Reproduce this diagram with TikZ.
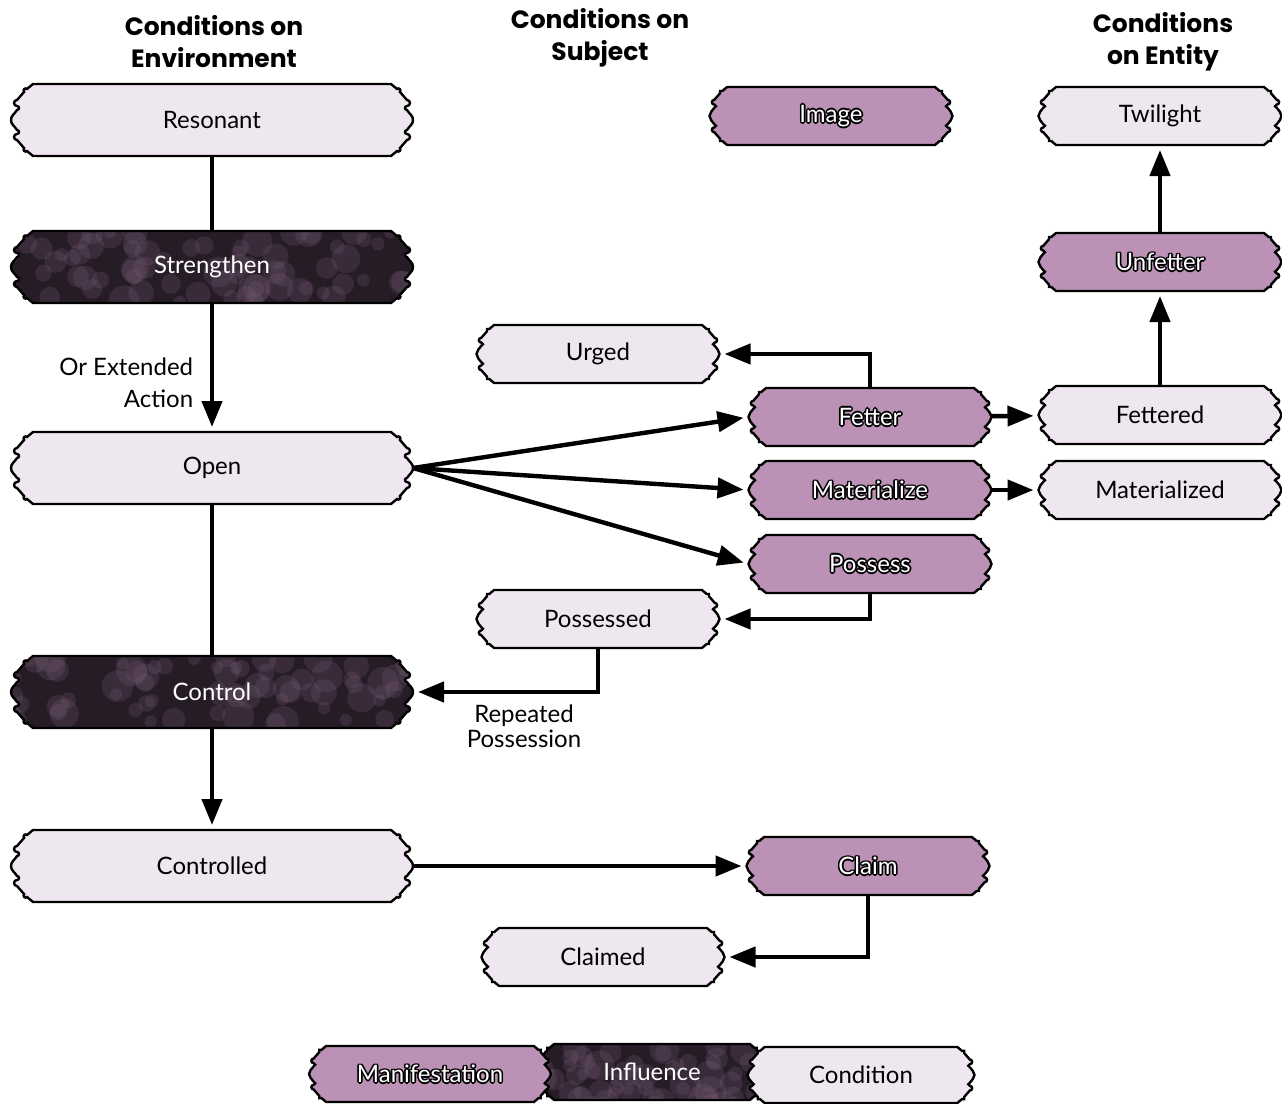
\documentclass[tikz,border=0pt]{standalone}
\usepackage{fontspec}
\setmainfont{Lato}
\newfontfamily\headfont{Poppins}
\usetikzlibrary{arrows.meta}
\usetikzlibrary{calc}
\usetikzlibrary{backgrounds}

\definecolor{condfill}{RGB}{239,231,240}
\definecolor{manifill}{RGB}{187,145,181}
\definecolor{inflfill}{RGB}{38,28,38}
\definecolor{inflspot}{RGB}{126,98,126}

% white lettering with a black rim
\newcommand\outlined[1]{{%
  \def\cp##1##2{\rlap{\kern##1\raisebox{##2}{\color{black}#1}}}%
  \cp{.8pt}{0pt}\cp{-.8pt}{0pt}\cp{0pt}{.8pt}\cp{0pt}{-.8pt}%
  \cp{.6pt}{.6pt}\cp{-.6pt}{.6pt}\cp{.6pt}{-.6pt}\cp{-.6pt}{-.6pt}%
  \color{white}#1}}

% outline of a ticket box around a node, #2 = size of the ornaments
\newcommand\ticketpath[2]{let \p1=(#1.north west), \p2=(#1.south east), \p3=(#1.center) in
  (\x1+11*#2pt,\y1) -- (\x2-11*#2pt,\y1)
  -- (\x2-8*#2pt,\y1-2.5*#2pt) arc[start angle=135,end angle=-45,radius=#2pt]
  -- (\x2-3*#2pt,\y1-8*#2pt)
  arc[start angle=90,end angle=-90,radius=1.5*#2pt]
  arc[start angle=90,end angle=270,radius=#2pt]
  to[out=-60,in=90] (\x2,\y3) to[out=-90,in=60] (\x2-3*#2pt,\y2+13*#2pt)
  arc[start angle=90,end angle=270,radius=#2pt]
  arc[start angle=90,end angle=-90,radius=1.5*#2pt]
  -- (\x2-6.59*#2pt,\y2+3.91*#2pt) arc[start angle=45,end angle=-135,radius=#2pt]
  -- (\x2-11*#2pt,\y2) -- (\x1+11*#2pt,\y2)
  -- (\x1+8*#2pt,\y2+2.5*#2pt) arc[start angle=-45,end angle=-225,radius=#2pt]
  -- (\x1+3*#2pt,\y2+8*#2pt)
  arc[start angle=-90,end angle=-270,radius=1.5*#2pt]
  arc[start angle=-90,end angle=90,radius=#2pt]
  to[out=120,in=-90] (\x1,\y3) to[out=90,in=-120] (\x1+3*#2pt,\y1-13*#2pt)
  arc[start angle=-90,end angle=90,radius=#2pt]
  arc[start angle=-90,end angle=-270,radius=1.5*#2pt]
  -- (\x1+6.59*#2pt,\y1-3.91*#2pt) arc[start angle=-135,end angle=-315,radius=#2pt]
  -- cycle}

% mottled dark ticket
\newcommand\inflticket[2]{%
  \fill[inflfill] \ticketpath{#1}{#2};
  \begin{scope}
    \clip \ticketpath{#1}{#2};
    \foreach \k in {1,...,70}
      \fill[inflspot,opacity=.22] ($(#1.north west)!{rnd}!(#1.north east)+(0pt,{-rnd*36pt})$) circle[radius={(3+5*rnd)*1pt}];
  \end{scope}
  \draw[rim] \ticketpath{#1}{#2};}

\begin{document}
\begin{tikzpicture}[x=0.5pt,y=-0.5pt]
	\tikzset{box/.style={inner sep=0pt, outer sep=0pt, font=\fontsize{12}{14}\selectfont}}
	\tikzset{wide/.style={box, minimum width=201pt, minimum height=36pt}}
	\tikzset{slim/.style={box, minimum width=121.5pt, minimum height=29pt}}
	\tikzset{key/.style={box, minimum height=28pt}}
	\tikzset{rim/.style={draw=black, line width=1.2pt}}
	\tikzset{cond/.style={rim, fill=condfill}}
	\tikzset{mani/.style={rim, fill=manifill}}
	\tikzset{heading/.style={align=center, font=\headfont\bfseries\fontsize{12.5}{16}\selectfont}}
	\tikzset{lbl/.style={align=right, font=\fontsize{12}{16}\selectfont}}
	\tikzset{link/.style={line width=2.2pt}}
	\tikzset{flow/.style={link, -{Triangle[length=13pt,width=10pt]}, shorten >=2.5pt}}
	\pgfmathsetseed{11}
	\useasboundingbox (0,0) rectangle (1282,1104);
	%headings
	\node[heading] (hen) at (214,42) {Conditions on\\Environment};
	\node[heading] (hsu) at (600,38) {Conditions on\\Subject};
	\node[heading] (hent) at (1163,42) {Conditions\\on Entity};
	%environment
	\node[wide] (res) at (212,120) {Resonant};
	\node[wide, text=white] (str) at (212,267) {Strengthen};
	\node[wide] (opn) at (212,468) {Open};
	\node[wide, text=white] (ctl) at (212,692) {Control};
	\node[wide] (cld) at (212,866) {Controlled};
	%subject
	\node[slim] (urg) at (598,354) {Urged};
	\node[slim] (pssd) at (598,619) {Possessed};
	\node[slim] (clmd) at (603,957) {Claimed};
	\node[slim] (img) at (831,116) {\outlined{Image}};
	\node[slim] (fet) at (870,417) {\outlined{Fetter}};
	\node[slim] (mat) at (870,490) {\outlined{Materialize}};
	\node[slim] (pos) at (870,564) {\outlined{Possess}};
	\node[slim] (clm) at (868,866) {\outlined{Claim}};
	%entity
	\node[slim] (twi) at (1160,116) {Twilight};
	\node[slim] (unf) at (1160,262) {\outlined{Unfetter}};
	\node[slim] (fetd) at (1160,415) {Fettered};
	\node[slim] (matd) at (1160,490) {Materialized};
	%legend
	\node[key, minimum width=115pt, text=white] (lgi) at (652,1072) {Influence};
	\node[key, minimum width=121pt] (lgm) at (430,1074) {\outlined{Manifestation}};
	\node[key, minimum width=113.5pt] (lgc) at (861,1075) {Condition};
	%boxes
	\begin{scope}[on background layer]
		\foreach \b in {res, opn, cld}
			\path[cond] \ticketpath{\b}{1};
		\foreach \b in {urg, pssd, clmd, twi, fetd, matd}
			\path[cond] \ticketpath{\b}{.8};
		\foreach \b in {img, fet, mat, pos, clm, unf}
			\path[mani] \ticketpath{\b}{.8};
		\inflticket{str}{1}
		\inflticket{ctl}{1}
		\inflticket{lgi}{.78}
		\path[mani] \ticketpath{lgm}{.78};
		\path[cond] \ticketpath{lgc}{.78};
	\end{scope}
	%edges
	\draw[link] (res) -- (str);
	\draw[flow] (str) -- node[lbl, left=5pt, pos=.62] (orx) {Or Extended\\Action} (opn);
	\draw[link] (opn) -- (ctl);
	\draw[flow] (ctl) -- (cld);
	\draw[flow] (opn.east) -- (fet.west);
	\draw[flow] (opn.east) -- (mat.west);
	\draw[flow] (opn.east) -- (pos.west);
	\draw[flow] (fet.north) |- (urg.east);
	\draw[flow] (fet) -- (fetd);
	\draw[flow] (mat) -- (matd);
	\draw[flow] (fetd) -- (unf);
	\draw[flow] (unf) -- (twi);
	\draw[flow] (pos.south) |- (pssd.east);
	\draw[flow] (pssd.south) |- node[lbl, align=center, below=2pt, pos=.7, font=\fontsize{12}{12.5}\selectfont] (rep) {Repeated\\Possession} (ctl.east);
	\draw[flow] (cld) -- (clm);
	\draw[flow] (clm.south) |- (clmd.east);
\end{tikzpicture}
\end{document}
